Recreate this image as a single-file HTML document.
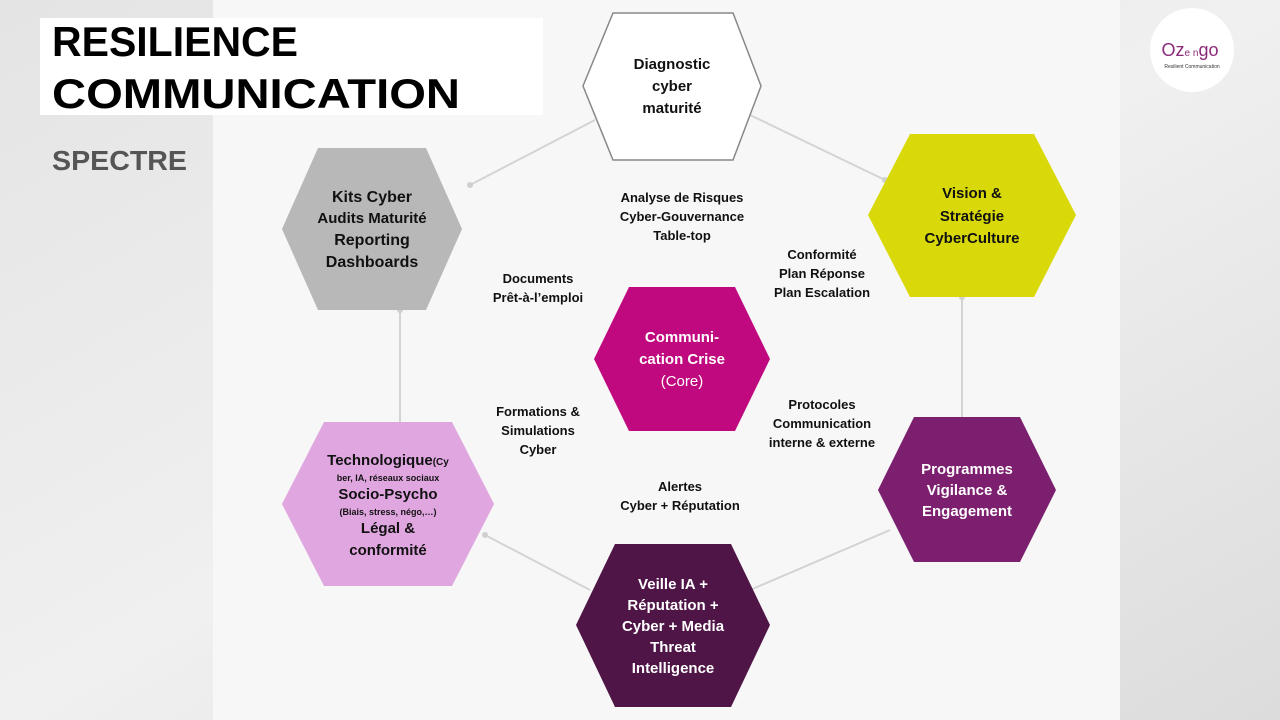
<!DOCTYPE html>
<html><head><meta charset="utf-8"><style>
body{margin:0;width:1280px;height:720px;overflow:hidden;font-family:"Liberation Sans",sans-serif}
svg{display:block}
</style></head><body>
<svg width="1280" height="720" viewBox="0 0 1280 720" font-family="Liberation Sans, sans-serif" font-weight="bold" text-anchor="middle">
<defs>
<linearGradient id="bg" x1="0" y1="0" x2="1" y2="1">
<stop offset="0" stop-color="#e4e4e4"/><stop offset="0.5" stop-color="#f0f0f0"/><stop offset="1" stop-color="#dcdcdc"/>
</linearGradient>
</defs>
<rect width="1280" height="720" fill="url(#bg)"/>
<rect x="213" y="0" width="907" height="720" fill="#f7f7f7"/>
<rect x="40" y="18" width="503" height="97" fill="#fff"/>
<text x="52" y="56" text-anchor="start" font-size="42" fill="#000" textLength="246" lengthAdjust="spacingAndGlyphs">RESILIENCE</text>
<text x="52" y="108" text-anchor="start" font-size="42" fill="#000" textLength="408" lengthAdjust="spacingAndGlyphs">COMMUNICATION</text>
<text x="52" y="170" text-anchor="start" font-size="28" fill="#555" textLength="135" lengthAdjust="spacingAndGlyphs">SPECTRE</text>
<circle cx="1192" cy="50" r="42" fill="#fff"/>
<text x="1190" y="56" font-size="18" fill="#8b2a7a" font-weight="normal">Oz<tspan font-size="10">e n</tspan>go</text>
<text x="1192" y="68" font-size="5" fill="#333" font-weight="normal">Resilient Communication</text>
<g stroke="#d4d4d4" stroke-width="2">
<line x1="595" y1="120" x2="470" y2="185"/><line x1="750" y1="115" x2="885" y2="180"/>
<line x1="962" y1="297" x2="962" y2="417"/><line x1="400" y1="310" x2="400" y2="422"/>
<line x1="485" y1="535" x2="590" y2="590"/><line x1="750" y1="590" x2="890" y2="530"/>
</g>
<g fill="#d0d0d0">
<circle cx="470" cy="185" r="3"/><circle cx="885" cy="180" r="3"/><circle cx="962" cy="297" r="3"/><circle cx="400" cy="310" r="3"/><circle cx="485" cy="535" r="3"/><circle cx="750" cy="590" r="3"/>
</g>
<polygon points="583,86 613,13 733,13 761,86 733,160 613,160" fill="#fff" stroke="#888" stroke-width="1.5"/>
<polygon points="282,229 318,148 426,148 462,229 426,310 318,310" fill="#b8b8b8"/>
<polygon points="868,215 910,134 1034,134 1076,215 1034,297 910,297" fill="#d9d90a"/>
<polygon points="594,359 629,287 735,287 770,359 735,431 629,431" fill="#c0097f"/>
<polygon points="282,504 324,422 452,422 494,504 452,586 324,586" fill="#e0a6e0"/>
<polygon points="878,490 914,417 1020,417 1056,490 1020,562 914,562" fill="#7b1f6e"/>
<polygon points="576,625 615,544 731,544 770,625 731,707 615,707" fill="#4f1547"/>
<g font-size="15" fill="#111">
<text x="672" y="69">Diagnostic</text><text x="672" y="91">cyber</text><text x="672" y="113">maturité</text>
<text x="372" y="202" font-size="16">Kits Cyber</text><text x="372" y="223">Audits Maturité</text><text x="372" y="245" font-size="16">Reporting</text><text x="372" y="267" font-size="16">Dashboards</text>
<text x="972" y="198">Vision &amp;</text><text x="972" y="221">Stratégie</text><text x="972" y="243">CyberCulture</text>
<text x="388" y="465">Technologique<tspan font-size="10">(Cy</tspan></text>
<text x="388" y="481" font-size="9">ber, IA, réseaux sociaux</text>
<text x="388" y="499">Socio-Psycho</text>
<text x="388" y="515" font-size="9">(Biais, stress, négo,…)</text>
<text x="388" y="533">Légal &amp;</text><text x="388" y="555">conformité</text>
</g>
<g font-size="15" fill="#fff">
<text x="682" y="342">Communi-</text><text x="682" y="364">cation Crise</text><text x="682" y="386" font-weight="normal">(Core)</text>
<text x="967" y="474">Programmes</text><text x="967" y="495">Vigilance &amp;</text><text x="967" y="516">Engagement</text>
<text x="673" y="589">Veille IA +</text><text x="673" y="610">Réputation +</text><text x="673" y="631">Cyber + Media</text><text x="673" y="652">Threat</text><text x="673" y="673">Intelligence</text>
</g>
<g font-size="13" fill="#111">
<text x="682" y="202">Analyse de Risques</text><text x="682" y="221">Cyber-Gouvernance</text><text x="682" y="240">Table-top</text>
<text x="822" y="259">Conformité</text><text x="822" y="278">Plan Réponse</text><text x="822" y="297">Plan Escalation</text>
<text x="538" y="283">Documents</text><text x="538" y="302">Prêt-à-l’emploi</text>
<text x="822" y="409">Protocoles</text><text x="822" y="428">Communication</text><text x="822" y="447">interne &amp; externe</text>
<text x="538" y="416">Formations &amp;</text><text x="538" y="435">Simulations</text><text x="538" y="454">Cyber</text>
<text x="680" y="491">Alertes</text><text x="680" y="510">Cyber + Réputation</text>
</g>
</svg>
</body></html>
